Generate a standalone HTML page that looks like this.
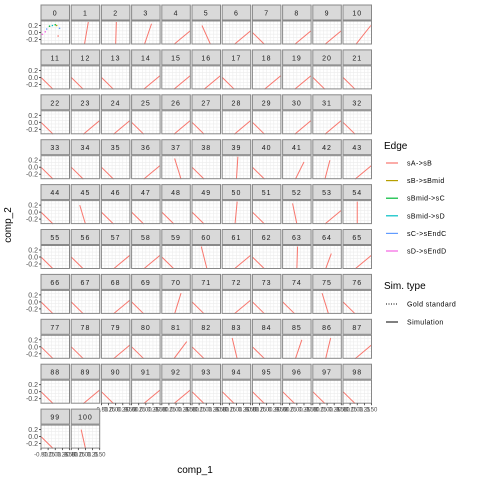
<!DOCTYPE html>
<html><head><meta charset="utf-8"><style>
body{margin:0;background:#fff;}
svg{display:block;font-family:"Liberation Sans",sans-serif;}
</style></head><body>
<svg id="chart" width="480" height="480" viewBox="0 0 480 480" xmlns="http://www.w3.org/2000/svg">
<rect width="480" height="480" fill="#fff"/>
<g id="panels"></g>
<text x="195" y="473" font-size="10" text-anchor="middle" fill="#000">comp_1</text>
<text x="11" y="225" font-size="10" text-anchor="middle" fill="#000" transform="rotate(-90 11 225)">comp_2</text>
<g>
<text x="384" y="149" font-size="10">Edge</text>
<g id="edgeLegend"></g>
<text x="384" y="289" font-size="10">Sim. type</text>
<line x1="386" y1="304" x2="398" y2="304" stroke="#000" stroke-width="1" stroke-dasharray="1,1.5"/>
<text x="407" y="306.5" font-size="7" letter-spacing="0.4">Gold standard</text>
<line x1="386" y1="322" x2="398" y2="322" stroke="#000" stroke-width="1"/>
<text x="407" y="324.5" font-size="7" letter-spacing="0.4">Simulation</text>
</g>
</svg>
<script>
const NS="http://www.w3.org/2000/svg";
const edgeNames=["sA->sB","sB->sBmid","sBmid->sC","sBmid->sD","sC->sEndC","sD->sEndD"];
const edgeColors=["#F8766D","#B79F00","#00BA38","#00BFC4","#619CFF","#F564E3"];
const panelIds=[];for(let i=0;i<=100;i++)panelIds.push(i);
// line type per panel: A = "\" , B = "/" , or custom index
const lineType=["0","c1","c2","c3","B","c5","B","A","B","B","c10",
"A","A","A","B","B","B","A","B","B","A","A",
"A","B","B","A","B","A","B","A","B","B","A",
"A","A","A","B","c37","A","c39","A","c41","c42","B",
"A","c45","A","A","A","A","c50","A","c52","B","c54",
"A","A","B","B","A","c60","B","A","c63","c64","B",
"A","A","B","A","c70","A","B","A","A","c75","A",
"A","A","B","A","c81","A","c83","A","c85","c86","B",
"A","B","A","B","B","A","A","A","A","A","A",
"A","c100"];
const typeA=[-1,0.0,-0.15,-0.34];
const typeB=[-0.15,-0.34,1,0.05];
const custom={c1:[-0.07,-0.34,0.2,0.3],c2:[0.0,-0.34,0.05,0.3],c3:[-0.1,-0.34,0.4,0.25],
c5:[-0.3,0.2,0.3,-0.34],c10:[-0.1,-0.34,0.95,0.2],c37:[-0.1,0.25,0.35,-0.34],
c39:[0.0,-0.34,0.1,0.3],c41:[-0.1,-0.34,0.5,0.15],c42:[-0.15,-0.34,0.2,0.2],
c45:[-0.4,0.2,0.0,-0.34],c50:[-0.1,-0.34,0.05,0.3],c52:[-0.3,0.25,0.0,-0.34],
c54:[0,0.3,0,-0.34],c60:[-0.35,0.3,0.05,-0.34],c63:[0.05,0.3,0.0,-0.34],
c64:[-0.1,-0.34,0.3,0.1],c70:[-0.1,-0.34,0.35,0.25],c75:[-0.35,0.25,0.1,-0.34],
c81:[-0.15,-0.34,0.75,0.15],c83:[-0.3,0.25,0.05,-0.34],c85:[-0.1,-0.34,0.35,0.2],
c86:[-0.1,-0.34,0.25,0.25],c100:[-0.3,0.2,0.0,-0.34]};
const p0x=[-0.9,-0.6,-0.4,-0.2,0.0,0.1,0.3,0.2,-0.7];
const p0y=[-0.05,0.1,0.18,0.2,0.22,0.2,0.12,-0.1,0.02];
const p0c=[5,4,2,3,2,1,4,0,5];
const yTicks=[0.2,0.0,-0.2];const yTickLabels=["0.2","0.0","-0.2"];
const xTicks=[-1,-0.5,0,0.5,1];const xTickLabels=["-0.50","-0.25","0.00","0.25","0.50"];
const NC=11,PX0=41,PDX=30.2,PW=28.5,SY0=5,PDY=44.9,SH=15,PH=23;
const g=document.getElementById("panels");
function mk(t,a,p){const e=document.createElementNS(NS,t);for(const k in a)e.setAttribute(k,a[k]);(p||g).appendChild(e);return e;}
function panelOrigin(i){const r=Math.floor(i/NC),c=i%NC;return [PX0+c*PDX,SY0+r*PDY];}
panelIds.forEach((id,i)=>{
 const [x0,sy]=panelOrigin(i);const py=sy+SH+1;
 const sx=v=>x0+(v+1)/2*PW;const syf=v=>py+PH/2-v*35;
 const grp=mk("g",{});
 
 
 const st=mk("rect",{x:x0,y:sy,width:PW,height:SH,fill:"#d9d9d9",stroke:"#888","stroke-width":1},grp);
 
 
 const lb=mk("text",{x:x0+PW/2,y:sy+10.5,"font-size":7,"text-anchor":"middle",fill:"#1a1a1a","letter-spacing":"1"},grp);
 lb.textContent=id;
 mk("rect",{x:x0,y:py,width:PW,height:PH,fill:"#fff"},grp);
 for(let k=1;k<8;k++){mk("line",{x1:x0+k*PW/8,x2:x0+k*PW/8,y1:py,y2:py+PH,stroke:"#ececec","stroke-width":0.6},grp);}
 for(let k=1;k<7;k++){mk("line",{x1:x0,x2:x0+PW,y1:py+k*PH/7,y2:py+k*PH/7,stroke:"#ececec","stroke-width":0.6},grp);}
 const clip=mk("g",{},grp);
 if(id===0){
  p0x.forEach((v,k)=>{const d=mk("circle",{cx:sx(v),cy:syf(p0y[k]),r:0.8,fill:edgeColors[p0c[k]]},clip);
   
   });
 }else{
  const t=lineType[i];const L=t==="A"?typeA:t==="B"?typeB:custom[t];
  const ln=mk("line",{x1:sx(L[0]),y1:syf(L[1]),x2:sx(L[2]),y2:syf(L[3]),stroke:"#F8766D","stroke-width":1},clip);
  
  
 }
 mk("rect",{x:x0,y:py,width:PW,height:PH,fill:"none",stroke:"#888","stroke-width":1},grp);
 const c=i%NC;
 if(c===0){yTicks.forEach((v,k)=>{mk("line",{x1:x0-2,x2:x0,y1:syf(v),y2:syf(v),stroke:"#333","stroke-width":0.8},grp);
  const tl=mk("text",{x:x0-3,y:syf(v)+2.5,"font-size":7,"text-anchor":"end",fill:"#4d4d4d"},grp);tl.textContent=yTickLabels[k];});}
 const below=i+NC;
 if(below>100){xTicks.forEach((v,k)=>{mk("line",{x1:sx(v),x2:sx(v),y1:py+PH,y2:py+PH+2,stroke:"#333","stroke-width":0.8},grp);
  const tl=mk("text",{x:sx(v),y:py+PH+8.5,"font-size":6,"text-anchor":"middle",fill:"#4d4d4d"},grp);tl.textContent=xTickLabels[k];});}
});
const eg=document.getElementById("edgeLegend");
edgeNames.forEach((n,k)=>{const y=163+k*17.6;
 const l=mk("line",{x1:386,x2:398,y1:y,y2:y,stroke:edgeColors[k],"stroke-width":1.2},eg);
 
 
 const t=mk("text",{x:407,y:y+2.5,"font-size":7,"letter-spacing":"0.4"},eg);t.textContent=n;
 
 
});
</script>
</body></html>
